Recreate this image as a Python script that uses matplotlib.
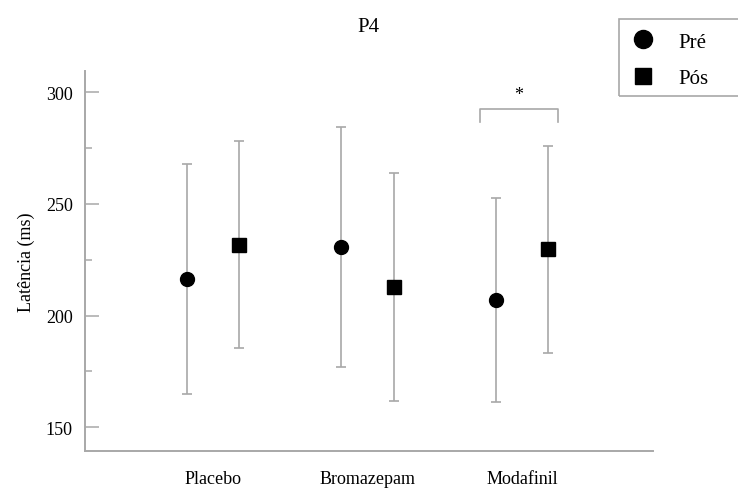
import matplotlib
matplotlib.use("Agg")
import matplotlib.pyplot as plt
from matplotlib.lines import Line2D
from matplotlib.patches import Rectangle
import numpy as np

plt.rcParams['font.family'] = ['Liberation Serif', 'DejaVu Serif']

# data
grupos = ["Placebo", "Bromazepam", "Modafinil"]
pre_media = [216.4, 230.7, 207.0]
pre_dp = [51.3, 53.8, 45.8]
pos_media = [231.8, 212.8, 229.6]
pos_dp = [46.3, 51.0, 46.5]
# significance bracket (group index, y top, label)
sig_grupo = 2
sig_y = 292.5
sig_txt = "*"

cinza = "#a8a8a8"
off = 0.17

fig = plt.figure(figsize=(7.38, 4.89), dpi=100)
ax = fig.add_axes([84.5/738, 1-452/489, (653-84.5)/738, (452-72)/489])

x = np.arange(len(grupos))
ax.errorbar(x - off, pre_media, yerr=pre_dp, fmt='o', color='black', ms=10,
            ecolor=cinza, elinewidth=1.2, capsize=3.3, capthick=1.2)
ax.errorbar(x + off, pos_media, yerr=pos_dp, fmt='s', color='black', ms=9.5,
            ecolor=cinza, elinewidth=1.2, capsize=3.3, capthick=1.2)

#bracket
bx0 = sig_grupo - off - 0.1
bx1 = sig_grupo + off + 0.06
ax.plot([bx0, bx0, bx1, bx1], [sig_y - 6, sig_y, sig_y, sig_y - 6],
        color=cinza, lw=1.2)
ax.text((bx0 + bx1) / 2, sig_y + 2.5, sig_txt, ha='center', va='bottom', fontsize=13)

ax.set_xlim(-0.832, 2.848)
ax.set_ylim(139.4, 309.5)
ax.set_xticks(x)
ax.set_xticklabels(grupos, fontsize=13)
ax.set_yticks([150, 200, 250, 300])
ax.set_yticks([175, 225, 275], minor=True)
ax.tick_params(axis='y', which='major', direction='in', length=10.3, width=1.1,
               color=cinza, labelsize=13, pad=8.5)
ax.tick_params(axis='y', which='minor', direction='in', length=4.8, width=1.1, color=cinza)
ax.tick_params(axis='x', length=0, pad=13.5)
ax.set_ylabel("Latência (ms)", fontsize=13, labelpad=8)
ax.set_title("P4", fontsize=15, pad=29)

for s in ['top', 'right']:
    ax.spines[s].set_visible(False)
for s in ['left', 'bottom']:
    ax.spines[s].set_color(cinza)
    ax.spines[s].set_linewidth(1.4)

#legend
handles = [Line2D([], [], marker='o', ls='none', color='black', ms=13),
           Line2D([], [], marker='s', ls='none', color='black', ms=12)]
fig.legend(handles, ["Pré", "Pós"], loc='upper left',
           bbox_to_anchor=(632.6/738, 1-33/489), frameon=False, fontsize=15,
           borderaxespad=0, borderpad=0, handlelength=1.0, handletextpad=1.18,
           labelspacing=0.8)
fig.patches.append(Rectangle((619/738, 1-97/489), 0.3, 77/489,
                             transform=fig.transFigure, fill=False,
                             edgecolor=cinza, lw=1.2))

fig.savefig("out.png", dpi=100)
